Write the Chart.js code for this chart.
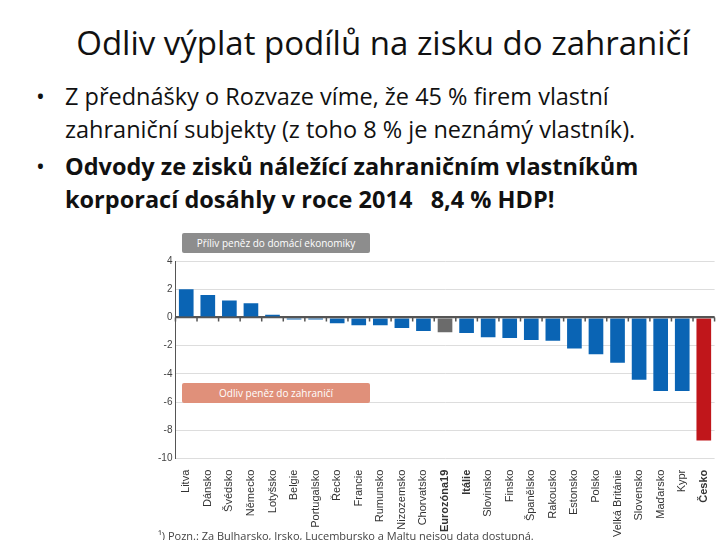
<!DOCTYPE html>
<html><head><meta charset="utf-8">
<script src="https://cdn.jsdelivr.net/npm/chart.js@4/dist/chart.umd.min.js"></script>
<style>
body{margin:0;width:720px;height:540px;overflow:hidden;background:#fff;font-family:"Open Sans",sans-serif;position:relative}
h1{position:absolute;left:0;width:766px;top:20px;margin:0;text-align:center;font-weight:normal;font-size:33px;color:#111;white-space:nowrap}
ul{position:absolute;left:30px;top:80px;width:660px;margin:0;padding:0;list-style:none;font-size:23.5px;line-height:33px;color:#111}
li{padding-left:35px;text-indent:-35px;margin-bottom:4px}
li:before{content:"•";display:inline-block;width:35px;text-indent:6px}
#wrap{position:absolute;left:155px;top:232px;width:565px;height:308px}
.tag{position:absolute;color:#fff;font-size:10px;border-radius:2px;text-align:center;line-height:20px;height:20px}
#note{position:absolute;left:158px;top:528px;font-size:11px;color:#444}
</style></head><body>
<h1>Odliv výplat podílů na zisku do zahraničí</h1>
<ul>
<li>Z přednášky o Rozvaze víme, že 45 % firem vlastní zahraniční subjekty (z toho 8 % je neznámý vlastník).</li>
<li><b>Odvody ze zisků náležící zahraničním vlastníkům korporací dosáhly v roce 2014 &nbsp;&nbsp;8,4 % HDP!</b></li>
</ul>
<div id="wrap"><canvas id="c"></canvas></div>
<div class="tag" style="left:182px;top:233px;width:188px;background:#8d8d8d">Příliv peněz do domácí ekonomiky</div>
<div class="tag" style="left:182px;top:383px;width:188px;background:#e0907a">Odliv peněz do zahraničí</div>
<div id="note">¹) Pozn.: Za Bulharsko, Irsko, Lucembursko a Maltu nejsou data dostupná.</div>
<script>
const countries = ["Litva","Dánsko","Švédsko","Německo","Lotyšsko","Belgie","Portugalsko","Řecko","Francie","Rumunsko","Nizozemsko","Chorvatsko","Eurozóna19","Itálie","Slovinsko","Finsko","Španělsko","Rakousko","Estonsko","Polsko","Velká Británie","Slovensko","Maďarsko","Kypr","Česko"];
const values = [2.0,1.6,1.2,1.0,0.2,-0.15,-0.15,-0.4,-0.55,-0.55,-0.75,-0.95,-1.05,-1.1,-1.4,-1.45,-1.6,-1.65,-2.2,-2.6,-3.2,-4.4,-5.2,-5.2,-8.7];
const boldLabels = ["Eurozóna19","Itálie","Česko"];
const colors = countries.map(c => c==="Česko" ? "#c0161b" : c==="Eurozóna19" ? "#6b6b6b" : "#0a64b4");
new Chart(document.getElementById("c"), {
  type: "bar",
  data: { labels: countries, datasets: [{ data: values, backgroundColor: colors, categoryPercentage: 1, barPercentage: 0.68 }] },
  options: {
    responsive: true, maintainAspectRatio: false, animation: false,
    layout: { padding: { top: 29, right: 0 } },
    plugins: { legend: { display: false }, tooltip: { enabled: false } },
    scales: {
      y: {
        min: -10, max: 4, ticks: { stepSize: 2, color: "#444", font: { size: 10 } },
        grid: { color: c => c.tick.value === 0 ? "#555" : "#ddd", lineWidth: c => c.tick.value === 0 ? 2 : 1, drawTicks: false },
        border: { display: true, color: "#555" }
      },
      x: {
        grid: { display: false },
        border: { display: false },
        ticks: {
          minRotation: 90, maxRotation: 90, autoSkip: false, color: "#333",
          font: c => ({ size: 11, weight: boldLabels.includes(countries[c.index]) ? "bold" : "normal" })
        }
      }
    }
  },
  plugins: [{
    id: "zeroTicks",
    afterDatasetsDraw(chart) {
      const { ctx, scales: { x, y } } = chart;
      const y0 = y.getPixelForValue(0);
      ctx.save(); ctx.strokeStyle = "#555"; ctx.lineWidth = 1.5;
      ctx.beginPath(); ctx.moveTo(x.left, y0); ctx.lineTo(x.right, y0);
      for (let i = 0; i <= countries.length; i++) {
        const px = x.left + (x.right - x.left) * i / countries.length;
        ctx.moveTo(px, y0); ctx.lineTo(px, y0 + 4);
      }
      ctx.stroke(); ctx.restore();
    }
  }]
});
</script>
</body></html>
